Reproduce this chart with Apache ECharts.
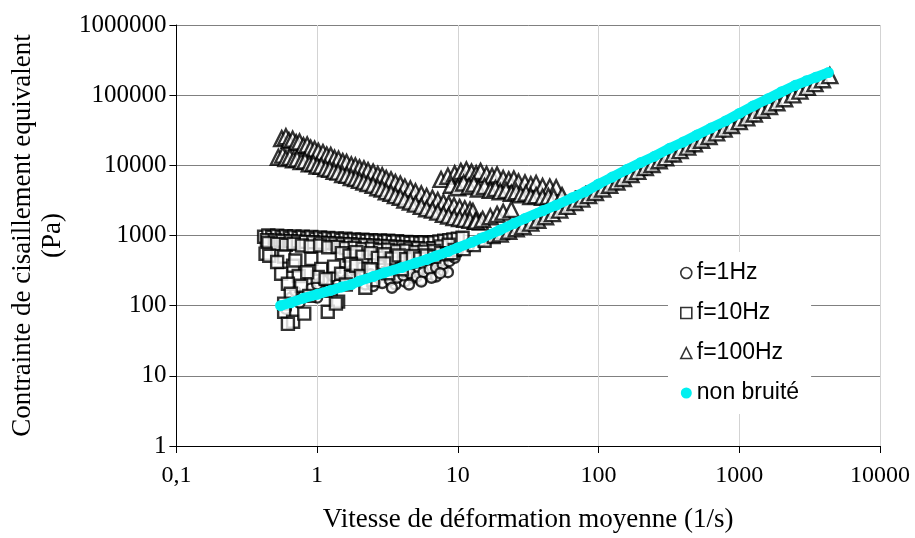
<!DOCTYPE html>
<html>
<head>
<meta charset="utf-8">
<script src="https://cdn.jsdelivr.net/npm/echarts@6/dist/echarts.min.js"></script>
<style>
    html, body { margin: 0; padding: 0; background: #fff; }
    #chart { width: 915px; height: 538px; }
</style>
</head>
<body>
<div id="chart"></div>
<script>
// noms des series (legende)
var seriesNames = ['f=1Hz', 'f=10Hz', 'f=100Hz', 'non bruité'];

// f=1Hz : nuage bas + long de la courbe
var f1Cloud = [[0.6,90],[0.65,130],[0.7,160],[0.75,110],[0.8,140],[0.9,175],[1.0,200],[1.0,130],[1.1,230],[1.2,170],
    [1.3,260],[1.4,200],[1.5,300],[1.6,230],[1.8,330],[1.9,250],[2.1,360],[2.2,200],[2.4,280],[2.6,230],[2.8,400],
    [3.0,300],[3.2,240],[3.6,200],[3.8,260],[4.2,220],[4.4,290],[4.8,250],[5.2,300],[5.5,230],[6.2,280],[6.5,330],
    [7.0,260],[7.5,420],[7.8,320],[8.5,300],[9,520]];
var f1Blobs = [[2.5,190],[2.9,210],[3.3,230],[3.7,250],[4.1,270],[4.6,290],[5.1,260],[5.7,300],[6.3,330],[7,350],
    [7.8,390],[8.7,430],[3.4,180],[4.5,200],[5.5,220],[6.5,250],[7.5,290],[9.5,480]];
var f1Curve = [[10,600],[12,700],[14.5,820],[17,930],[20,1070],[24,1270],[28,1460],[33,1700],[39,1980],[46,2300],
    [54,2680],[63,3100],[74,3620],[87,4230],[102,4940],[120,5780],[140,6700],[165,7850],[195,9200],[230,10800],
    [270,12600],[320,14900],[380,17600],[450,20700],[530,24400],[630,28900]];

// f=10Hz : bande vers 1000 Pa, nuage de carres, long de la courbe
var f10BandTop = [[0.42,960],[0.45,1000],[0.48,950],[0.52,990],[0.56,940],[0.6,980],[0.64,930],[0.69,970],[0.74,920],
    [0.79,960],[0.85,910],[0.91,950],[0.98,900],[1.05,940],[1.12,890],[1.2,920],[1.29,880],[1.38,910],[1.48,870],
    [1.59,900],[1.7,860],[1.83,880],[1.96,850],[2.1,870],[2.25,840],[2.42,860],[2.6,830],[2.8,850],[3.0,820],
    [3.2,840],[3.45,810],[3.7,830],[4.0,800],[4.3,810],[4.6,790],[5.0,800],[5.4,780],[5.8,800],[6.3,780],
    [6.8,800],[7.4,820],[8.0,840],[8.7,860],[9.3,880],[10,900],[10.8,930]];
var f10BandMid = [[0.44,860],[0.5,850],[0.57,840],[0.65,830],[0.73,820],[0.83,810],[0.94,800],[1.06,790],[1.2,780],
    [1.35,770],[1.52,760],[1.72,750],[1.95,740],[2.2,730],[2.5,720],[2.8,710],[3.2,700],[3.6,690],[4.1,680],
    [4.6,670],[5.2,660],[5.9,650],[6.7,660],[7.6,700],[8.6,740]];
var f10BandLow = [[0.45,780],[0.52,760],[0.6,740],[0.68,760],[0.78,720],[0.9,700],[1.05,720],[1.2,680],[1.4,690],
    [1.6,660],[1.85,670],[2.1,640],[2.45,650],[2.8,620],[3.2,630],[3.7,600],[4.3,610],[5.0,580],[5.8,590],[6.8,600]];
var f10Fill = [[1.5,560],[1.7,520],[1.9,580],[2.1,500],[2.4,560],[2.7,480],[3.0,540],[3.4,470],[3.8,520],[4.3,460],
    [4.8,510],[5.4,470],[6.0,520],[6.8,500],[7.6,560],[8.4,540],[9.5,620]];
var f10Cloud = [[0.43,550],[0.457,515],[0.583,500],[0.675,370],[0.555,285],[0.74,265],[0.91,465],[1.07,335],[1.01,257],
    [1.32,360],[1.48,285],[1.74,395],[1.74,257],[0.62,205],[0.77,192],[0.88,138],[1.25,163],[1.41,114],[0.65,148],
    [0.583,107],[0.583,82],[0.675,59],[0.62,55],[0.81,77],[1.19,82],[1.36,107],[1.9,370],[2.05,265],[2.4,330],
    [2.5,230],[3.2,290],[3.0,400],[4.0,330],[0.52,420],[0.7,440],[0.85,300],[1.15,240],[1.6,200],[2.2,180]];
var f10Curve = [[9,560],[11,640],[13,730],[15.5,840],[18,950],[21,1080],[25,1250],[29,1420],[34,1640],[40,1900],
    [47,2200],[55,2550],[65,3000],[76,3500],[90,4100],[105,4750],[125,5600],[145,6500],[170,7600],[200,8900],
    [235,10400],[275,12100],[320,14000],[375,16400],[440,19200],[520,22600],[610,26500],[720,31200],[850,36800],
    [1000,43300],[1200,52000],[1400,61000],[1650,72000]];

// f=100Hz : deux bandes decroissantes, plateau, long de la courbe
var f100BandUp = [[0.56,24000],[0.6,25500],[0.63,22500],[0.67,23500],[0.71,21000],[0.75,21500],[0.8,19000],
    [0.85,19500],[0.9,17500],[0.96,17000],[1.02,15800],[1.1,15200],[1.17,14000],[1.25,13800],[1.33,12600],
    [1.42,12200],[1.52,11300],[1.62,11000],[1.75,10100],[1.87,9800],[2.0,9200],[2.15,8900],[2.3,8400],[2.5,8000],
    [2.7,7400],[2.9,7100],[3.1,6500],[3.35,6200],[3.6,5700],[3.9,5400],[4.2,4900],[4.6,4600],[5,4200],[5.5,3900],
    [6,3600],[6.6,3400],[7.2,3150],[7.9,2950],[8.6,2800],[9.4,2650],[10.3,2500],[11.2,2400],[12.2,2300],[12.8,2200]];
var f100BandLow = [[0.53,13000],[0.57,14000],[0.6,12500],[0.64,13000],[0.68,12000],[0.72,12300],[0.77,11300],
    [0.82,11500],[0.88,10500],[0.94,10600],[1.0,9800],[1.07,9700],[1.15,9000],[1.23,8800],[1.32,8200],[1.41,8000],
    [1.52,7400],[1.63,7200],[1.75,6700],[1.88,6500],[2.0,6100],[2.15,5800],[2.3,5500],[2.5,5200],[2.7,4800],
    [2.9,4600],[3.1,4200],[3.35,4000],[3.6,3700],[3.9,3500],[4.2,3200],[4.6,3000],[5,2800],[5.5,2600],[6,2400],
    [6.6,2300],[7.2,2150],[7.9,2000],[8.6,1900],[9.4,1800],[10.3,1750],[11.2,1700],[12.2,1650],[13.3,1600],
    [14.5,1550]];
var f100Plateau = [[7.6,6300],[8.5,7000],[9.5,7600],[10.5,8200],[11.5,8600],[12.5,8000],[13.5,7600],[14.5,8200],
    [16,7400],[17.5,7000],[19,7300],[21,6500],[23,6200],[25,6400],[27,5800],[30,5600],[33,5300],[36,5500],
    [40,5000],[45,4900],[50,4800],[9,5200],[10,4800],[11,5600],[12,5000],[13,5400],[14,4600],[15.5,5000],
    [17,4400],[18.5,4700],[20,4200],[22,4400],[24,4000],[26,4200],[28,3800],[30.5,4000],[33,3600],[36,3700],
    [40,3500],[44,3600],[48,3500],[55,3700]];
var f100Curve = [[13.5,1600],[15,1700],[17,1850],[19,2000],[21,2150],[24,2350],[20,1050],[23,1150],[26,1250],
    [29,1350],[33,1500],[37,1650],[42,1850],[47,2050],[53,2300],[60,2600],[68,2950],[76,3300],[85,3700],[95,4100],
    [107,4600],[120,5200],[135,5800],[150,6500],[170,7400],[190,8200],[215,9300],[240,10300],[270,11600],
    [300,12800],[340,14500],[380,16200],[430,18200],[480,20300],[540,22800],[610,25700],[690,29000],[780,32800],
    [880,37000],[1000,42000],[1130,47500],[1280,54000],[1450,61000],[1640,69000],[1850,78000],[2100,89000],
    [2400,101000],[2700,114000],[3050,129000],[3450,146000],[3900,166000],[4400,190000]];

// non bruite
var cleanCurve = [[0.55,100],[0.65,110],[0.8,128],[1,145],[1.25,165],[1.5,185],[1.75,200],[2,225],[2.5,260],
    [3,295],[4,350],[5,405],[6,455],[7,510],[8.5,590],[10,670],[12.5,800],[15,930],[20,1200],[25,1480],[30,1750],
    [40,2250],[50,2700],[65,3450],[80,4200],[100,5400],[125,6800],[160,8800],[200,11000],[250,13500],[320,17500],
    [400,21500],[500,27000],[630,34000],[800,43000],[1000,55000],[1250,70000],[1600,89000],[2000,112000],
    [2500,138000],[3000,160000],[3500,180000],[4300,210000]];

buildChart();

function hollow(name, symbol, size, data) {
    return {
        name: name,
        type: 'scatter',
        symbol: symbol,
        symbolSize: size,
        data: data,
        itemStyle: {
            color: '#fff',
            borderColor: '#000',
            borderWidth: 2.4
        },
        emphasis: { disabled: true }
    };
}

function buildChart() {
    var serifFont = 'Liberation Serif';
    var cyan = '#00f0f0';
    var option = {
        animation: false,
        grid: {
            left: 175,
            right: 35,
            top: 25,
            bottom: 90
        },
        legend: {
            orient: 'vertical',
            left: 668,
            top: 252,
            padding: [9, 12, 9, 12],
            itemGap: 16,
            itemWidth: 11,
            itemHeight: 11,
            backgroundColor: '#fff',
            textStyle: {
                fontFamily: 'Liberation Sans',
                fontSize: 23,
                lineHeight: 24,
                color: '#000'
            },
            data: [
                { name: seriesNames[0], icon: 'circle', itemStyle: { borderWidth: 1.6 } },
                { name: seriesNames[1], icon: 'rect', itemStyle: { borderWidth: 1.6 } },
                { name: seriesNames[2], icon: 'triangle', itemStyle: { borderWidth: 1.6 } },
                { name: seriesNames[3], icon: 'circle' }
            ]
        },
        xAxis: {
            type: 'log',
            logBase: 10,
            min: 0.1,
            max: 10000,
            name: 'Vitesse de déformation moyenne (1/s)',
            nameLocation: 'middle',
            nameGap: 60,
            nameTextStyle: { fontFamily: serifFont, fontSize: 27, color: '#000' },
            axisLine: { lineStyle: { color: '#000', width: 1 } },
            axisTick: { length: 7, lineStyle: { color: '#000' } },
            axisLabel: {
                margin: 18,
                fontFamily: serifFont,
                fontSize: 24,
                color: '#000',
                formatter: function (v) {
                    return String(Number(v.toPrecision(6))).replace('.', ',');
                }
            },
            splitLine: { show: true, lineStyle: { color: '#d3d3d3', width: 1 } }
        },
        yAxis: {
            type: 'log',
            logBase: 10,
            min: 1,
            max: 1000000,
            name: 'Contrainte de cisaillement equivalent\n(Pa)',
            nameLocation: 'middle',
            nameGap: 100,
            nameTextStyle: { fontFamily: serifFont, fontSize: 27, color: '#000', lineHeight: 30 },
            axisLine: { show: true, lineStyle: { color: '#000', width: 1 } },
            axisTick: { show: true, length: 7, lineStyle: { color: '#000' } },
            axisLabel: {
                margin: 10,
                fontFamily: serifFont,
                fontSize: 25,
                color: '#000',
                formatter: function (v) {
                    return String(Math.round(v));
                }
            },
            splitLine: { show: true, lineStyle: { color: '#808080', width: 1 } }
        },
        series: [
            hollow(seriesNames[0], 'circle', 10, f1Cloud.concat(f1Blobs, f1Curve)),
            hollow(seriesNames[1], 'rect', 12, f10BandTop.concat(f10BandMid, f10BandLow, f10Fill, f10Cloud, f10Curve)),
            hollow(seriesNames[2], 'triangle', 15, f100BandUp.concat(f100BandLow, f100Plateau, f100Curve)),
            {
                name: seriesNames[3],
                type: 'line',
                data: cleanCurve,
                symbol: 'circle',
                symbolSize: 11,
                showAllSymbol: true,
                lineStyle: { color: cyan, width: 10 },
                itemStyle: { color: cyan, borderWidth: 0 },
                emphasis: { disabled: true },
                z: 5
            }
        ]
    };
    var chartDom = document.getElementById('chart');
    var echart = echarts.init(chartDom);
    echart.setOption(option, true);
}
</script>
</body>
</html>
